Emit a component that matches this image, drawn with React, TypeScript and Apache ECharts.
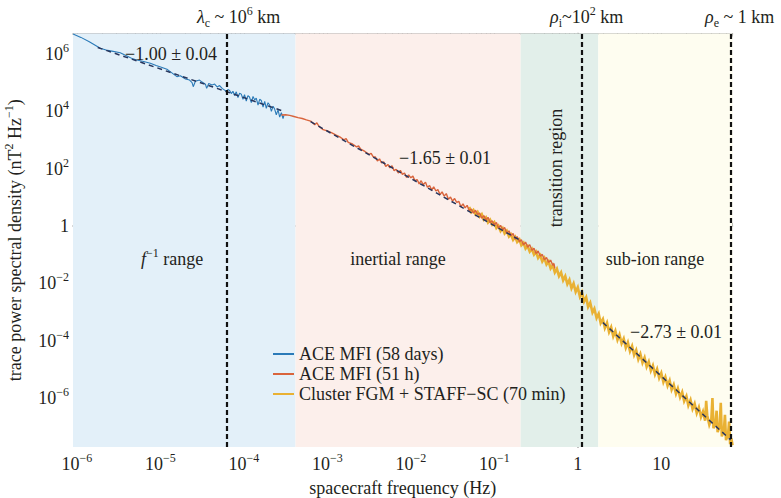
import React, { useEffect, useRef } from 'react';
import * as echarts from 'echarts';

const FONT = '"Liberation Serif", "Times New Roman", serif';
const INK = '#231f20';

// ACE MFI (58 days)
const aceLongFreq = [
  9.02e-7, 1.12e-6, 1.41e-6, 1.91e-6, 2.24e-6, 2.63e-6, 3.31e-6, 3.98e-6, 4.68e-6, 5.25e-6,
  6.31e-6, 7.59e-6, 8.91e-6, 1.05e-5, 1.2e-5, 1.35e-5, 1.58e-5, 1.74e-5, 2.0e-5, 2.24e-5,
  2.4e-5, 2.48e-5, 2.63e-5, 2.95e-5, 3.16e-5, 3.47e-5, 3.59e-5, 3.8e-5, 4.17e-5, 4.47e-5,
  4.79e-5, 5.13e-5, 5.5e-5, 5.89e-5, 6.17e-5, 6.46e-5,
  6.76e-5, 7.08e-5, 7.41e-5, 7.76e-5, 8.13e-5, 8.51e-5, 8.91e-5, 9.33e-5, 9.77e-5, 1.02e-4,
  1.07e-4, 1.12e-4, 1.17e-4, 1.23e-4, 1.29e-4, 1.35e-4, 1.41e-4, 1.48e-4, 1.55e-4, 1.62e-4,
  1.7e-4, 1.78e-4, 1.86e-4, 1.95e-4, 2.04e-4, 2.14e-4, 2.24e-4, 2.34e-4, 2.45e-4, 2.57e-4,
  2.69e-4, 2.82e-4, 2.95e-4, 3.02e-4,
];
const aceLongPsd = [
  5.01e6, 3.8e6, 2.69e6, 1.58e6, 1.38e6, 1.26e6, 1.1e6, 8.51e5, 6.76e5, 6.17e5,
  5.5e5, 4.79e5, 3.98e5, 3.39e5, 2.95e5, 2.29e5, 1.62e5, 1.74e5, 1.35e5, 1.23e5,
  1.0e5, 7.24e4, 1.12e5, 1.23e5, 1.05e5, 8.91e4, 6.31e4, 9.33e4, 8.32e4, 8.91e4,
  7.08e4, 7.94e4, 6.31e4, 5.5e4, 5.01e4, 5.75e4,
  5.37e4, 4.17e4, 5.01e4, 3.55e4, 4.79e4, 3.02e4, 4.27e4, 3.98e4, 2.63e4, 3.8e4,
  2.29e4, 3.55e4, 3.16e4, 2.0e4, 3.31e4, 2.51e4, 2.88e4, 1.66e4, 2.63e4, 2.4e4,
  1.41e4, 2.24e4, 1.26e4, 2.0e4, 1.66e4, 1.0e4, 1.51e4, 1.2e4, 7.59e3, 1.12e4,
  6.31e3, 8.91e3, 5.62e3, 7.08e3,
];

// ACE MFI (51 h)
const aceShortFreq = [
  2.82e-4, 3.16e-4, 3.55e-4, 3.98e-4, 4.47e-4, 5.01e-4, 5.62e-4, 6.31e-4, 7.08e-4, 7.5e-4,
  7.94e-4, 8.91e-4, 1.0e-3, 1.12e-3, 1.26e-3, 1.41e-3, 1.58e-3, 1.68e-3, 1.78e-3, 2.0e-3,
  2.24e-3, 2.37e-3, 2.51e-3, 2.82e-3, 3.16e-3, 3.35e-3, 3.55e-3,
  3.76e-3, 3.98e-3, 4.22e-3, 4.47e-3, 4.73e-3, 5.01e-3, 5.31e-3, 5.62e-3, 5.96e-3, 6.31e-3,
  6.68e-3, 7.08e-3, 7.5e-3, 7.94e-3, 8.41e-3, 8.91e-3, 9.44e-3, 1.0e-2, 1.06e-2, 1.12e-2,
  1.19e-2, 1.26e-2, 1.33e-2, 1.41e-2, 1.5e-2, 1.58e-2, 1.68e-2, 1.78e-2, 1.88e-2, 2.0e-2,
  2.11e-2, 2.24e-2, 2.37e-2, 2.51e-2, 2.66e-2, 2.82e-2, 2.99e-2, 3.16e-2, 3.35e-2, 3.55e-2,
  3.76e-2, 3.98e-2, 4.22e-2, 4.47e-2, 4.73e-2, 5.01e-2, 5.31e-2, 5.62e-2, 5.96e-2, 6.31e-2,
  6.68e-2, 7.08e-2, 7.5e-2, 7.94e-2, 8.41e-2, 8.91e-2, 9.44e-2, 0.1, 0.106, 0.112,
  0.119, 0.126, 0.133, 0.141, 0.15, 0.158, 0.168, 0.178, 0.188, 0.2,
  0.211, 0.224, 0.237, 0.251, 0.266, 0.282, 0.299, 0.316, 0.335, 0.355,
  0.376, 0.398, 0.422, 0.447, 0.473, 0.501, 0.519, 0.531,
];
const aceShortPsd = [
  7.41e3, 7.59e3, 7.24e3, 6.61e3, 6.03e3, 5.62e3, 5.01e3, 4.57e3, 3.39e3, 3.98e3,
  3.02e3, 2.29e3, 2.09e3, 1.82e3, 1.51e3, 1.29e3, 1.02e3, 1.12e3, 832, 724,
  575, 617, 479, 398, 316, 339, 257,
  257, 186, 219, 158, 174, 120, 141, 107, 126, 85.1,
  95.5, 70.8, 87.1, 63.1, 70.8, 49.0, 60.3, 47.9, 55.0, 38.0,
  41.7, 29.5, 38.0, 27.5, 33.9, 22.4, 25.7, 17.8, 23.4, 16.6,
  18.6, 12.6, 15.5, 11.0, 13.5, 8.51, 10.2, 7.41, 9.12, 6.61,
  7.24, 4.68, 5.89, 4.27, 5.25, 3.39, 3.89, 2.82, 3.55, 2.51,
  2.82, 1.86, 2.29, 1.62, 2.0, 1.29, 1.51, 1.1, 1.32, 0.851,
  1.05, 0.741, 0.891, 0.562, 0.676, 0.457, 0.55, 0.347, 0.427, 0.282,
  0.331, 0.219, 0.275, 0.182, 0.224, 0.141, 0.166, 0.11, 0.135, 8.91e-2,
  0.102, 6.61e-2, 7.94e-2, 5.37e-2, 6.46e-2, 4.27e-2, 4.9e-2, 3.31e-2,
];

// Cluster FGM + STAFF-SC (70 min)
const clusterFreq = [
  5.01e-2, 5.31e-2, 5.62e-2, 5.96e-2, 6.31e-2, 6.68e-2, 7.08e-2, 7.5e-2, 7.94e-2, 8.41e-2,
  8.91e-2, 9.44e-2, 0.1, 0.106, 0.112, 0.119, 0.126, 0.133, 0.141, 0.15,
  0.158, 0.168, 0.178, 0.188, 0.2, 0.211, 0.224, 0.237, 0.251, 0.266,
  0.282, 0.299, 0.316, 0.335, 0.355, 0.376, 0.398, 0.422, 0.447, 0.473,
  0.501, 0.531, 0.562, 0.596, 0.631, 0.668, 0.708, 0.75, 0.794, 0.841,
  0.891, 0.944, 1.0, 1.06, 1.12, 1.19, 1.26, 1.33, 1.41, 1.5,
  1.58, 1.68, 1.78, 1.88, 2.0, 2.11, 2.24, 2.37, 2.51, 2.66,
  2.82, 2.99, 3.16, 3.35, 3.55, 3.76, 3.98, 4.22, 4.47, 4.73,
  5.01, 5.31, 5.62, 5.96, 6.31, 6.68, 7.08, 7.5, 7.94, 8.41,
  8.91, 9.44, 10.0, 10.6, 11.2, 11.9, 12.6, 13.3, 14.1, 15.0,
  15.8, 16.8, 17.8, 18.8, 20.0, 21.1, 22.4, 23.7, 25.1, 26.6,
  28.2, 29.9, 31.6, 33.5, 34.5, 35.5, 37.6, 39.8, 41.0, 42.2,
  44.7, 46.0, 47.3, 50.1, 51.6, 53.1, 56.2, 57.9, 59.6, 63.1,
  64.9, 66.8, 69.2, 71.3,
];
const clusterPsd = [
  4.57, 3.05, 3.63, 2.54, 3.09, 2.11, 2.57, 1.68, 2.0, 1.32,
  1.64, 1.12, 1.35, 0.851, 1.02, 0.661, 0.832, 0.55, 0.676, 0.427,
  0.513, 0.331, 0.417, 0.275, 0.339, 0.214, 0.26, 0.162, 0.2, 0.127,
  0.158, 0.101, 0.126, 7.67e-2, 9.55e-2, 5.82e-2, 7.59e-2, 4.57e-2, 5.82e-2, 3.31e-2,
  4.27e-2, 2.4e-2, 3.2e-2, 1.78e-2, 2.4e-2, 1.27e-2, 1.78e-2, 9.44e-3, 1.32e-2, 6.76e-3,
  9.89e-3, 5.01e-3, 7.24e-3, 3.47e-3, 4.9e-3, 2.34e-3, 3.24e-3, 1.51e-3, 2.09e-3, 9.55e-4,
  1.29e-3, 6.17e-4, 8.71e-4, 4.07e-4, 5.62e-4, 2.75e-4, 4.17e-4, 2.0e-4, 2.95e-4, 1.41e-4,
  2.19e-4, 1.07e-4, 1.62e-4, 7.94e-5, 1.17e-4, 5.62e-5, 8.71e-5, 4.27e-5, 6.46e-5, 3.16e-5,
  4.68e-5, 2.24e-5, 3.43e-5, 1.7e-5, 2.57e-5, 1.23e-5, 1.84e-5, 8.91e-6, 1.35e-5, 6.68e-6,
  1.02e-5, 4.95e-6, 7.41e-6, 3.55e-6, 5.37e-6, 2.66e-6, 4.07e-6, 1.95e-6, 2.92e-6, 1.41e-6,
  2.14e-6, 1.05e-6, 1.6e-6, 7.76e-7, 1.15e-6, 5.5e-7, 8.61e-7, 4.17e-7, 6.31e-7, 2.95e-7,
  4.73e-7, 2.19e-7, 3.39e-7, 1.6e-7, 7.9e-7, 2.51e-7, 1.16e-7, 1.86e-7, 1.0e-6, 8.81e-8,
  1.4e-7, 3.6e-7, 6.46e-8, 1.02e-7, 6.8e-7, 4.57e-8, 7.33e-8, 2.6e-7, 3.39e-8, 5.37e-8,
  1.5e-7, 2.45e-8, 3.89e-8, 2.24e-8,
];

// power-law fits (dashed)
const fitLowFreq = [1.78e-6, 2.82e-4];
const fitLowPsd = [1.69e6, 1.07e4];
const fitInertialFreq = [6.31e-4, 0.204];
const fitInertialPsd = [4.37e3, 0.316];
const fitSubIonFreq = [2.0, 67.6];
const fitSubIonPsd = [4.27e-4, 3.47e-8];

// characteristic scales (vertical dashed lines)
const scaleFreqs = [6.2e-5, 1.11, 67.8];
// shaded ranges
const bandEdges = [9.0e-7, 4.16e-4, 0.207, 1.76, 71.3];
const bandColors = ['#e3f0f9', '#fcefeb', '#e2efea', '#fefdf0'];

const xRange = [9.0e-7, 71.3];
const yRange = [1.95e-8, 5.19e6];
const xTickExponents = [-6, -5, -4, -3, -2, -1, 0, 1];
const yTickExponents = [-6, -4, -2, 0, 2, 4, 6];

const seriesNames = ['ACE MFI (58 days)', 'ACE MFI (51 h)', 'Cluster FGM + STAFF\u2212SC (70 min)'];
const seriesColors = ['#2a7ab8', '#d9643c', '#e9b133'];

const lg = Math.log10;
const pts = (f: number[], p: number[]) => f.map((v, i) => [lg(v), lg(p[i])]);

const X_MIN = lg(xRange[0]);
const X_MAX = lg(xRange[1]);
const Y_MIN = lg(yRange[0]);
const Y_MAX = lg(yRange[1]);

const minorX: number[] = [];
for (let e = -7; e <= 1; e++) {
  for (let k = 2; k <= 9; k++) {
    const v = e + lg(k);
    if (v > X_MIN && v < X_MAX) minorX.push(v);
  }
}

const MINUS = '\u2212';
const expLabel = (v: number) => {
  const e = Math.round(v);
  if (e === 0) return '{b|1}';
  if (e === 1) return '{b|10}';
  return `{b|10}{sup|${e < 0 ? MINUS : ''}${Math.abs(e)}}`;
};

const LABEL_RICH = {
  b: { fontSize: 18, fontFamily: FONT, color: INK, lineHeight: 24 },
  sup: { fontSize: 12, fontFamily: FONT, color: INK, lineHeight: 12, verticalAlign: 'top' },
};

const G_RICH = {
  b: { fontSize: 18, fontFamily: FONT, fill: INK, lineHeight: 24 },
  it: { fontSize: 18, fontFamily: FONT, fontStyle: 'italic', fill: INK, lineHeight: 24 },
  sup: { fontSize: 12, fontFamily: FONT, fill: INK, lineHeight: 12, verticalAlign: 'top' },
  sub: { fontSize: 12, fontFamily: FONT, fill: INK, lineHeight: 12, verticalAlign: 'bottom' },
};

const AXIS_LINE = { show: true, lineStyle: { color: '#9d9d9d', width: 1.5 } };
const TICK_STYLE = { color: '#7a7a7a', width: 1 };

const xAxisBase = {
  type: 'value',
  min: X_MIN,
  max: X_MAX,
  splitLine: { show: false },
};
const yAxisBase = {
  type: 'value',
  min: Y_MIN,
  max: Y_MAX,
  splitLine: { show: false },
};

const gText = (x: number, y: number, text: string, extra: any = {}) => ({
  type: 'text',
  x,
  y,
  silent: true,
  z: 100,
  ...extra,
  style: {
    text,
    fontSize: 18,
    fontFamily: FONT,
    fill: INK,
    align: 'center',
    verticalAlign: 'middle',
    rich: G_RICH,
    ...(extra.style || {}),
  },
});

const buildOption = () => ({
  animation: false,
  backgroundColor: '#ffffff',
  textStyle: { fontFamily: FONT },
  grid: { left: 73, right: 48.5, top: 33.5, bottom: 51, containLabel: false, outerBoundsMode: 'none' },
  legend: {
    data: seriesNames,
    orient: 'vertical',
    left: 273,
    top: 345,
    padding: 0,
    itemWidth: 21,
    itemHeight: 2,
    itemGap: 2,
    icon: 'rect',
    selectedMode: false,
    textStyle: { fontSize: 18, fontFamily: FONT, color: INK },
  },
  xAxis: [
    {
      ...xAxisBase,
      position: 'bottom',
      axisLine: AXIS_LINE,
      axisTick: { show: true, inside: true, length: 6, lineStyle: TICK_STYLE, customValues: xTickExponents },
      axisLabel: { show: true, margin: 5, customValues: xTickExponents, formatter: expLabel, rich: LABEL_RICH },
      name: 'spacecraft frequency (Hz)',
      nameLocation: 'middle',
      nameGap: 32,
      nameTextStyle: { fontSize: 18, fontFamily: FONT, color: INK },
    },
    {
      ...xAxisBase,
      position: 'bottom',
      axisLine: { show: false },
      axisTick: { show: true, inside: true, length: 3, lineStyle: TICK_STYLE, customValues: minorX },
      axisLabel: { show: false },
    },
    {
      ...xAxisBase,
      position: 'top',
      axisLine: AXIS_LINE,
      axisTick: { show: true, inside: true, length: 6, lineStyle: TICK_STYLE, customValues: xTickExponents },
      axisLabel: { show: false },
    },
    {
      ...xAxisBase,
      position: 'top',
      axisLine: { show: false },
      axisTick: { show: true, inside: true, length: 3, lineStyle: TICK_STYLE, customValues: minorX },
      axisLabel: { show: false },
    },
  ],
  yAxis: [
    {
      ...yAxisBase,
      position: 'left',
      axisLine: AXIS_LINE,
      axisTick: { show: true, inside: true, length: 6, lineStyle: TICK_STYLE, customValues: yTickExponents },
      axisLabel: { show: true, margin: 4, customValues: yTickExponents, formatter: expLabel, rich: LABEL_RICH },
      name: `trace power spectral density (nT{sup|2} Hz{sup|${MINUS}1})`,
      nameLocation: 'middle',
      nameGap: 46,
      nameRotate: 90,
      nameTextStyle: {
        fontSize: 18,
        fontFamily: FONT,
        color: INK,
        lineHeight: 24,
        rich: {
          sup: { fontSize: 12, fontFamily: FONT, color: INK, lineHeight: 12, verticalAlign: 'top' },
        },
      },
    },
    {
      ...yAxisBase,
      position: 'right',
      axisLine: AXIS_LINE,
      axisTick: { show: true, inside: true, length: 6, lineStyle: TICK_STYLE, customValues: yTickExponents },
      axisLabel: { show: false },
    },
  ],
  series: [
    {
      name: '__bands',
      type: 'line',
      data: [],
      silent: true,
      z: 0,
      markArea: {
        silent: true,
        data: bandColors.map((c, i) => [
          { xAxis: lg(bandEdges[i]), itemStyle: { color: c } },
          { xAxis: lg(bandEdges[i + 1]) },
        ]),
      },
    },
    {
      name: seriesNames[2],
      type: 'line',
      data: pts(clusterFreq, clusterPsd),
      showSymbol: false,
      symbol: 'none',
      color: seriesColors[2],
      lineStyle: { color: seriesColors[2], width: 2.6, join: 'miter' },
      z: 2,
    },
    {
      name: seriesNames[0],
      type: 'line',
      data: pts(aceLongFreq, aceLongPsd),
      showSymbol: false,
      symbol: 'none',
      color: seriesColors[0],
      lineStyle: { color: seriesColors[0], width: 1.1 },
      z: 3,
    },
    {
      name: seriesNames[1],
      type: 'line',
      data: pts(aceShortFreq, aceShortPsd),
      showSymbol: false,
      symbol: 'none',
      color: seriesColors[1],
      lineStyle: { color: seriesColors[1], width: 1.4 },
      z: 3,
    },
    ...[
      [fitLowFreq, fitLowPsd],
      [fitInertialFreq, fitInertialPsd],
      [fitSubIonFreq, fitSubIonPsd],
    ].map(([f, p], i) => ({
      name: `__fit${i}`,
      type: 'line',
      data: pts(f, p),
      showSymbol: false,
      symbol: 'none',
      silent: true,
      lineStyle: { color: '#27355c', width: 1.5, type: [5, 4] },
      z: 4,
    })),
    {
      name: '__scales',
      type: 'line',
      data: [],
      silent: true,
      z: 5,
      markLine: {
        silent: true,
        symbol: ['none', 'none'],
        label: { show: false },
        lineStyle: { color: '#111111', width: 2.2, type: [5, 3] },
        data: scaleFreqs.map((f) => ({ xAxis: lg(f) })),
      },
    },
  ],
  graphic: [
    gText(197, 17, `{it|\u03bb}{sub|c}{b| ~ 10}{sup|6}{b| km}`, { style: { align: 'left' } }),
    gText(550, 17, `{it|\u03c1}{sub|i}{b|~10}{sup|2}{b| km}`, { style: { align: 'left' } }),
    gText(705, 17, `{it|\u03c1}{sub|e}{b| ~ 1 km}`, { style: { align: 'left' } }),
    gText(171, 54, `{b|${MINUS}1.00 \u00b1 0.04}`),
    gText(445, 158, `{b|${MINUS}1.65 \u00b1 0.01}`),
    gText(676, 332, `{b|${MINUS}2.73 \u00b1 0.01}`),
    gText(172, 259, `{it|f}{sup|${MINUS}1}{b| range}`),
    gText(398, 259, `{b|inertial range}`),
    gText(655, 259, `{b|sub-ion range}`),
    gText(556, 168, `{b|transition region}`, { rotation: Math.PI / 2 }),
  ],
});

export default function App() {
  const ref = useRef<HTMLDivElement>(null);
  useEffect(() => {
    document.body.style.margin = '0';
    const chart = echarts.init(ref.current as HTMLDivElement, null, { renderer: 'svg' });
    chart.setOption(buildOption() as any);
    return () => chart.dispose();
  }, []);
  return <div ref={ref} style={{ width: 781, height: 498, background: '#ffffff' }} />;
}
